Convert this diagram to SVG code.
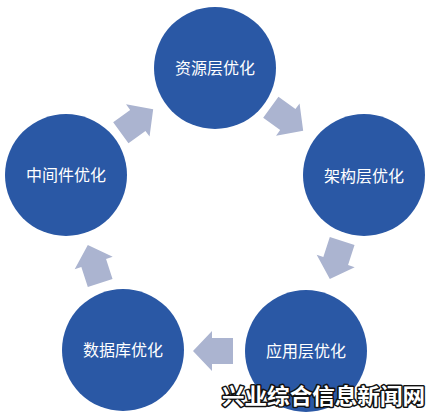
<svg xmlns="http://www.w3.org/2000/svg" width="430" height="416" viewBox="0 0 430 416">
  <defs>
    <style>
      .node circle { fill: #2a58a5; }
      .node text { fill: #ffffff; font-family: "Noto Sans CJK SC", "Noto Sans", sans-serif; font-size: 16px; text-anchor: middle; dominant-baseline: central; }
      .arrow { fill: #abb4d0; }
      .wm { fill: #ffffff; stroke: #111111; stroke-width: 3; paint-order: stroke; stroke-linejoin: round; font-family: "Noto Sans CJK SC", sans-serif; font-size: 22px; font-weight: bold; }
    </style>
    <polygon id="blk" points="-20,-13 1,-13 1,-20 20,0 1,20 1,13 -20,13"/>
  </defs>
  <rect width="430" height="416" fill="#ffffff"/>
  <g id="connectors">
    <use href="#blk" class="arrow" transform="translate(287,119) rotate(36)"/>
    <use href="#blk" class="arrow" transform="translate(336,260) rotate(108)"/>
    <use href="#blk" class="arrow" transform="translate(213,351) rotate(180)"/>
    <use href="#blk" class="arrow" transform="translate(94,264) rotate(252)"/>
    <use href="#blk" class="arrow" transform="translate(137,121) rotate(324)"/>
  </g>
  <g id="node-resource" class="node"><circle cx="215" cy="68" r="61"/><text x="215" y="67">资源层优化</text></g>
  <g id="node-arch" class="node"><circle cx="364" cy="175" r="61"/><text x="364" y="175">架构层优化</text></g>
  <g id="node-app" class="node"><circle cx="306" cy="351" r="61"/><text x="306" y="350">应用层优化</text></g>
  <g id="node-db" class="node"><circle cx="123" cy="350" r="61"/><text x="123" y="349">数据库优化</text></g>
  <g id="node-mid" class="node"><circle cx="66" cy="175" r="61"/><text x="66" y="174">中间件优化</text></g>
  <text class="wm" x="222" y="404" textLength="203" lengthAdjust="spacingAndGlyphs">兴业综合信息新闻网</text>
</svg>
